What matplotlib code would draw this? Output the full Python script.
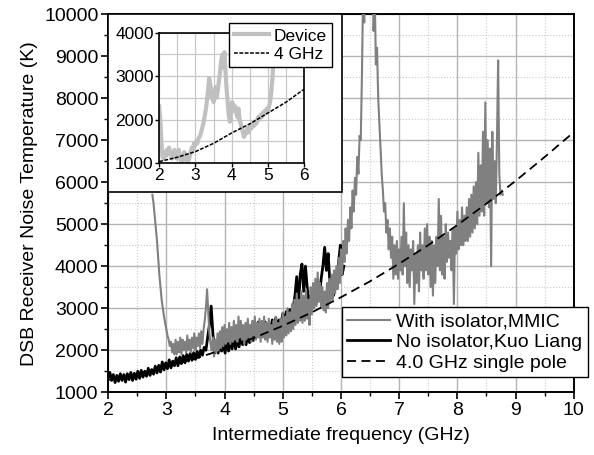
import numpy as np
import matplotlib
matplotlib.use("Agg")
import matplotlib.pyplot as plt
from matplotlib.patches import Rectangle
from matplotlib.ticker import MultipleLocator

plt.rcParams['font.family'] = ['Liberation Sans', 'DejaVu Sans']

# with isolator, MMIC (gray), sampled every 0.02 GHz from 2.76 GHz
mmic_start = 2.76
mmic_step = 0.02
mmic_temp = [
    5700, 5500, 5200, 4900, 4600, 4200, 3800, 3500, 3200, 3000,
    2800, 2650, 2500, 2350, 2250, 2100, 2200, 1950, 2150, 1900,
    2250, 1900, 2200, 1950, 2300, 1900, 2250, 2000, 2200, 1950,
    2350, 2000, 2250, 1950, 2300, 2050, 2400, 2000, 2300, 2100,
    2400, 2050, 2450, 2150, 2500, 2700, 3000, 3450, 2900, 2400,
    2150, 2000, 2300, 1850, 2250, 1950, 2400, 2000, 2450, 2050,
    2550, 2100, 2600, 2150, 2500, 2200, 2650, 2150, 2550, 2200,
    2700, 2250, 2600, 2200, 2800, 2300, 2700, 2250, 2600, 2150,
    2650, 2250, 2750, 2300, 2600, 2200, 2700, 2350, 2800, 2250,
    2650, 2300, 2750, 2200, 2700, 2300, 2800, 2250, 2650, 2200,
    2750, 2300, 2600, 2150, 2700, 2250, 2800, 2200, 2650, 2150,
    2750, 2200, 2900, 2300, 2800, 2350, 3000, 2400, 2900, 2450,
    3100, 2500, 3200, 2600, 3350, 2650, 3200, 2700, 3400, 2650,
    3300, 2700, 3450, 2750, 3200, 2600, 3500, 2850, 3600, 3000,
    3700, 3050, 3850, 3150, 3600, 3000, 3500, 2950, 3400, 2900,
    3600, 3000, 3700, 3150, 3800, 3200, 3900, 3350, 4000, 3450,
    4200, 3600, 4400, 3800, 4600, 4100, 4900, 4300, 5100, 4600,
    5400, 4900, 5800, 5300, 6100, 5700, 6600, 6200, 7100, 7000,
    8500, 10500, 9800, 12000, 12000, 12000, 12000, 10500, 11000, 12000,
    9600, 10500, 8800, 9200, 8000, 7400, 6800, 6200, 5800, 5300,
    5500, 4800, 5100, 4400, 4900, 4200, 4700, 3700, 4500, 3800,
    4600, 3700, 4400, 3900, 4700, 3800, 5500, 4000, 4800, 3600,
    4500, 3500, 4400, 3900, 4600, 3100, 4300, 3600, 4500, 3400,
    4800, 3900, 4500, 3700, 4900, 3900, 5000, 3800, 4700, 3500,
    4600, 3300, 4500, 3600, 4700, 4000, 5600, 3900, 5200, 3800,
    4700, 3700, 5000, 4100, 4800, 4200, 4600, 3900, 4900, 3100,
    4900, 4300, 5300, 4400, 5100, 4500, 5400, 4500, 5200, 4600,
    5400, 4600, 5600, 4700, 5700, 4800, 5900, 4900, 6000, 5000,
    6700, 5200, 6400, 5300, 7200, 5200, 7900, 5500, 7000, 5400,
    6800, 4000, 7200, 5600, 6500, 5500, 7000, 8900, 6200, 5700,
    5800, 5700,
]

# no isolator, Kuo Liang (black), sampled every 0.03 GHz from 2.0 GHz
kuo_start = 2.0
kuo_step = 0.03
kuo_temp = [
    1350, 1470, 1280, 1420, 1230, 1400, 1260, 1440, 1280, 1420,
    1240, 1440, 1300, 1470, 1280, 1450, 1310, 1500, 1330, 1520,
    1360, 1500, 1380, 1570, 1400, 1540, 1430, 1620, 1460, 1640,
    1480, 1720, 1530, 1700, 1560, 1770, 1580, 1740, 1630, 1820,
    1630, 1840, 1680, 1870, 1700, 1900, 1740, 1920, 1760, 1940,
    1780, 1970, 1830, 2000, 1880, 2070, 2000, 2300, 2600, 3050,
    2400, 1930, 2170, 1930, 2220, 1980, 2170, 1930, 2270, 1980,
    2220, 2030, 2320, 2030, 2270, 2080, 2370, 2130, 2320, 2130,
    2420, 2180, 2470, 2230, 2570, 2330, 2670, 2330, 2570, 2380,
    2670, 2430, 2620, 2430, 2720, 2480, 2770, 2530, 2720, 2580,
    2870, 2630, 2920, 2680, 2970, 2730, 3020, 3300, 3750, 3000,
    3800, 4050, 3400, 4000, 3500, 3100, 3300, 3000, 3200, 3100,
    3400, 3300, 3700, 4000, 4450, 3900, 4300, 3600, 3400, 3300,
    3600, 3500, 4100, 4500, 3800, 4000,
]

# 4.0 GHz single pole model, read every 0.5 GHz
pole_freq = [2.0, 2.5, 3.0, 3.5, 4.0, 4.5, 5.0, 5.5, 6.0, 6.5,
             7.0, 7.5, 8.0, 8.5, 9.0, 9.5, 10.0]
pole_temp = [1290, 1430, 1600, 1800, 2030, 2290, 2580, 2900, 3260, 3640,
             4060, 4500, 4980, 5490, 6030, 6600, 7190]

# inset: device (every 0.03 GHz from 2.0) and 4 GHz model
dev_start = 2.0
dev_step = 0.03
dev_temp = [
    2300, 2000, 1500, 1150, 1100, 1250, 1150, 1300, 1200, 1350,
    1250, 1150, 1100, 1200, 1300, 1200, 1100, 1250, 1300, 1150,
    1050, 1000, 1100, 1250, 1200, 1100, 1000, 1050, 1150, 1250,
    1350, 1300, 1450, 1400, 1500, 1450, 1550, 1600, 1650, 1750,
    1850, 1950, 2100, 2250, 2450, 2700, 2950, 2800, 2500, 2650,
    2400, 2600, 2750, 2500, 2700, 2900, 3100, 3350, 3500, 3200,
    3550, 3100, 2700, 2400, 2100, 1950, 2100, 2400, 2350, 2200,
    2300, 2150, 2050, 2250, 2000, 1900, 1800, 1700, 1600, 1650,
    1700, 1800, 1700, 1750, 1850, 1800, 1900, 1850, 1950, 1900,
    1950, 2050, 2000, 2100, 2050, 2150, 2100, 2200, 2150, 2250,
    2200, 2300, 2400, 2600, 2900, 3300, 3700, 4100,
]
ins_freq = [2.0, 2.5, 3.0, 3.5, 4.0, 4.5, 5.0, 5.5, 6.0]
ins_temp = [1030, 1130, 1260, 1450, 1690, 1900, 2150, 2400, 2700]

mmic_freq = mmic_start + mmic_step * np.arange(len(mmic_temp))
kuo_freq = kuo_start + kuo_step * np.arange(len(kuo_temp))
dev_freq = dev_start + dev_step * np.arange(len(dev_temp))

fig = plt.figure(figsize=(5.94, 4.55), dpi=100)
ax = fig.add_axes([0.182, 0.138, 0.784, 0.831])

l_kuo, = ax.plot(kuo_freq, kuo_temp, color='black', lw=2.0, zorder=3)
l_mmic, = ax.plot(mmic_freq, mmic_temp, color='#808080', lw=1.5, zorder=4)
l_pole, = ax.plot(pole_freq, pole_temp, color='black', lw=1.3,
                  linestyle=(0, (5, 3)), zorder=5)

ax.set_xlim(2, 10)
ax.set_ylim(1000, 10000)
ax.xaxis.set_major_locator(MultipleLocator(1))
ax.xaxis.set_minor_locator(MultipleLocator(0.5))
ax.yaxis.set_major_locator(MultipleLocator(1000))
ax.yaxis.set_minor_locator(MultipleLocator(500))
ax.grid(which='major', color='#b4b4b4', lw=1.0)
ax.grid(which='minor', color='#c8c8c8', lw=0.8, linestyle=':')
ax.set_axisbelow(True)
ax.tick_params(which='major', direction='out', length=5, width=1.2,
               labelsize=14, pad=2)
ax.tick_params(which='minor', direction='out', length=3, width=1.0)
for s in ax.spines.values():
    s.set_linewidth(1.4)
ax.set_xlabel("Intermediate frequency (GHz)", fontsize=14, labelpad=6)
ax.set_ylabel("DSB Receiver Noise Temperature (K)", fontsize=14, labelpad=4)

leg = ax.legend([l_mmic, l_kuo, l_pole],
                ["With isolator,MMIC", "No isolator,Kuo Liang",
                 "4.0 GHz single pole"],
                loc='upper right', bbox_to_anchor=(0.99, 0.325),
                bbox_transform=fig.transFigure, fontsize=14,
                fancybox=False, framealpha=1, edgecolor='black',
                borderpad=0.3, labelspacing=0.15, handlelength=2.2,
                handletextpad=0.3, borderaxespad=0)
leg.get_frame().set_linewidth(1.0)
leg.set_zorder(10)

# white box behind the inset
box = Rectangle((0.182, 0.578), 0.394, 0.391, transform=fig.transFigure,
                facecolor='white', edgecolor='black', lw=1.2, zorder=1)
fig.patches.append(box)

ins = fig.add_axes([0.268, 0.642, 0.244, 0.286], zorder=2)
l_dev, = ins.plot(dev_freq, dev_temp, color='#c0c0c0', lw=3)
l_ins, = ins.plot(ins_freq, ins_temp, color='black', lw=1.1,
                  linestyle=(0, (2.5, 1)))
ins.set_xlim(2, 6)
ins.set_ylim(1000, 4000)
ins.xaxis.set_major_locator(MultipleLocator(1))
ins.xaxis.set_minor_locator(MultipleLocator(0.5))
ins.yaxis.set_major_locator(MultipleLocator(1000))
ins.yaxis.set_minor_locator(MultipleLocator(500))
ins.grid(which='both', color='#c8c8c8', lw=0.9)
ins.set_axisbelow(True)
ins.tick_params(which='major', direction='out', length=3, width=1.0,
                labelsize=12.5, pad=1)
ins.tick_params(which='minor', length=0)
for s in ins.spines.values():
    s.set_linewidth(1.2)

ileg = ins.legend([l_dev, l_ins], ["Device", "4 GHz"],
                  loc='upper right', bbox_to_anchor=(0.559, 0.949),
                  bbox_transform=fig.transFigure, fontsize=12.5,
                  fancybox=False, framealpha=1, edgecolor='black',
                  borderpad=0.3, labelspacing=0.2, handlelength=2.0,
                  handletextpad=0.3, borderaxespad=0)
ileg.get_frame().set_linewidth(1.0)

fig.savefig("out.png", dpi=100)
plt.close(fig)
